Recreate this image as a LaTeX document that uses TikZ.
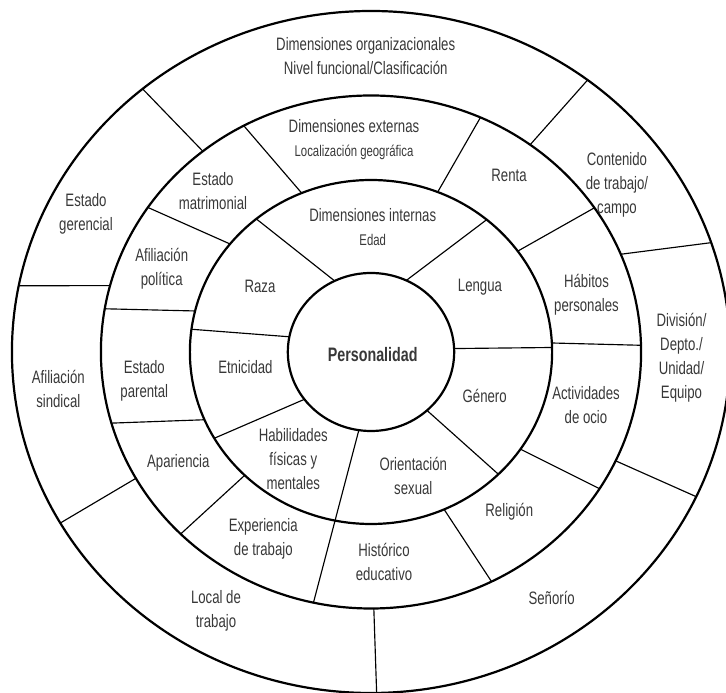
\documentclass[tikz,border=0pt]{standalone}
\usepackage{fontspec}
\setmainfont[FakeStretch=0.733]{Liberation Sans}
\begin{document}
\begin{tikzpicture}[x=1pt,y=1pt,
  ring/.style={line width=2.2pt},
  divider/.style={line width=1.15pt},
  lbl/.style={align=center,inner sep=0pt,text=black!78,font=\fontsize{18}{24}\selectfont},
  small/.style={font=\fontsize{15.5}{24}\selectfont}]
\useasboundingbox (0,0) rectangle (726,693);
\clip (0,0) rectangle (726,693);
\begin{scope}[shift={(371,341)},xscale=1.053]
  \draw[ring] (0,0) circle (79);
  \draw[ring] (0,0) circle (172);
  \draw[ring] (0,0) circle (256.5);
  \draw[ring] (0,0) circle (341);
  % inner ring
  \draw[divider] (115.9:79) -- (129.3:172);
  \draw[divider] (64.9:79) -- (50.3:172);
  \draw[divider] (2.5:79) -- (1.5:172);
  \draw[divider] (-47.7:79) -- (-45.3:172);
  \draw[divider] (-98.4:79) -- (-102.3:256.5);
  \draw[divider] (216.8:79) -- (210.1:172);
  \draw[divider] (168.9:79) -- (172.4:172);
  % middle ring
  \draw[divider] (112.5:172) -- (118.1:256.5);
  \draw[divider] (141.1:172) -- (145.7:256.5);
  \draw[divider] (166.2:172) -- (170.3:256.5);
  \draw[divider] (203.2:172) -- (196.1:256.5);
  \draw[divider] (225.8:172) -- (225.2:256.5);
  \draw[divider] (-66.2:172) -- (-63.5:256.5);
  \draw[divider] (-34.4:172) -- (-32.2:256.5);
  \draw[divider] (3.0:172) -- (1.5:256.5);
  \draw[divider] (35.9:172) -- (34.2:256.5);
  \draw[divider] (68.4:172) -- (66.1:256.5);
  % outer ring
  \draw[divider] (128.5:256.5) -- (129.5:341);
  \draw[divider] (165:256.5) -- (168.8:341);
  \draw[divider] (209.5:256.5) -- (210.1:341);
  \draw[divider] (-89.4:256.5) -- (-89.1:341);
  \draw[divider] (-25.1:256.5) -- (-25.1:341);
  \draw[divider] (22.4:256.5) -- (18.7:341);
  \draw[divider] (53.9:256.5) -- (52.9:341);
\end{scope}
% labels (y = 693 - pixel y)
\node[lbl,font=\bfseries\fontsize{19.5}{24}\selectfont] (pers) at (372.7,338) {Personalidad};
\node[lbl] (org) at (365.7,636.6) {Dimensiones organizacionales\\Nivel funcional/Clasificaci\'on};
\node[lbl] (ext) at (354,553.6) {Dimensiones externas\\{\fontsize{15.5}{24}\selectfont Localizaci\'on geogr\'afica}};
\node[lbl] (int) at (372.7,466) {Dimensiones internas\\{\fontsize{15.5}{24}\selectfont Edad}};
\node[lbl] (matr) at (213,501.6) {Estado\\matrimonial};
\node[lbl] (ger) at (86,479) {Estado\\gerencial};
\node[lbl] (renta) at (509,517.3) {Renta};
\node[lbl] (cont) at (617,508) {Contenido\\de trabajo/\\campo};
\node[lbl] (pol) at (161.7,424) {Afiliaci\'on\\pol\'itica};
\node[lbl] (raza) at (260,406.3) {Raza};
\node[lbl] (leng) at (480,406.3) {Lengua};
\node[lbl] (hab) at (586.5,398.6) {H\'abitos\\personales};
\node[lbl] (div) at (681.5,335.4) {Divisi\'on/\\Depto./\\Unidad/\\Equipo};
\node[lbl] (etn) at (245.4,325.7) {Etnicidad};
\node[lbl] (par) at (144.3,312) {Estado\\parental};
\node[lbl] (sind) at (58.3,304) {Afiliaci\'on\\sindical};
\node[lbl] (gen) at (484.7,297) {G\'enero};
\node[lbl] (ocio) at (586,288.3) {Actividades\\de ocio};
\node[lbl] (apar) at (178.3,229.7) {Apariencia};
\node[lbl] (hfm) at (293.3,234) {Habilidades\\f\'isicas y\\mentales};
\node[lbl] (ori) at (413.3,217.5) {Orientaci\'on\\sexual};
\node[lbl] (rel) at (509.3,181.3) {Religi\'on};
\node[lbl] (exp) at (263.3,154.6) {Experiencia\\de trabajo};
\node[lbl] (hist) at (384,130.6) {Hist\'orico\\educativo};
\node[lbl] (local) at (216,82.6) {Local de\\trabajo};
\node[lbl] (sen) at (551.7,94.7) {Se\~nor\'io};
\end{tikzpicture}
\end{document}
